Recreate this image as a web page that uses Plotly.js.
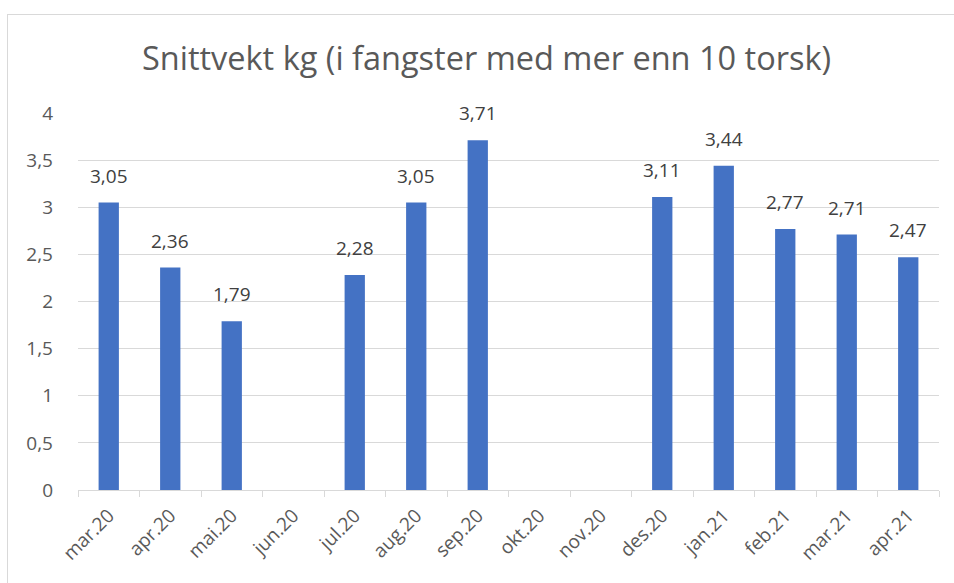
<!DOCTYPE html>
<html>
<head>
<meta charset="utf-8">
<script src="https://cdn.plot.ly/plotly-3.0.1.min.js"></script>
<style>
  body { margin: 0; background: #fff; }
  #plot { position: absolute; left: 0; top: 0; width: 954px; height: 583px; }
  #frame { position: absolute; left: 7px; top: 14px; width: 960px; height: 580px;
           border-left: 1px solid #d9d9d9; border-top: 1px solid #d9d9d9; pointer-events: none; }
</style>
</head>
<body>
<div id="plot"></div>
<div id="frame"></div>
<script>
// Månedene (tomme måneder har ingen verdi)
const months = ['mar.20', 'apr.20', 'mai.20', 'jun.20', 'jul.20', 'aug.20', 'sep.20',
                'okt.20', 'nov.20', 'des.20', 'jan.21', 'feb.21', 'mar.21', 'apr.21'];
const snittvekt = [3.05, 2.36, 1.79, null, 2.28, 3.05, 3.71,
                   null, null, 3.11, 3.44, 2.77, 2.71, 2.47];
const yTicks = [0, 0.5, 1, 1.5, 2, 2.5, 3, 3.5, 4];

const font = '"Open Sans", "Liberation Sans", sans-serif';

const trace = {
    type: 'bar',
    x: months,
    y: snittvekt,
    width: 0.33,
    marker: { color: '#4472c4' },
    hoverinfo: 'x+y'
};

// dataetiketter over søylene
const labels = [];
months.forEach((m, i) => {
    if (snittvekt[i] === null) return;
    labels.push({
        x: m,
        y: snittvekt[i],
        text: snittvekt[i].toFixed(2).replace('.', ','),
        showarrow: false,
        yanchor: 'bottom',
        yshift: 12,
        font: { family: font, size: 19, color: '#404040' }
    });
});

const layout = {
    width: 954,
    height: 583,
    separators: ', ',
    paper_bgcolor: '#ffffff',
    plot_bgcolor: '#ffffff',
    font: { family: font, color: '#595959' },
    title: {
        text: 'Snittvekt kg (i fangster med mer enn 10 torsk)',
        font: { family: font, size: 32.5, color: '#595959' },
        x: 0.51,
        xanchor: 'center',
        y: 0.9,
        yanchor: 'middle'
    },
    margin: { l: 78, r: 15, t: 113, b: 93 },
    xaxis: {
        type: 'category',
        tickangle: -45,
        tickfont: { family: font, size: 19, color: '#595959' },
        showline: true,
        linecolor: '#d9d9d9',
        linewidth: 1,
        ticks: 'outside',
        tickson: 'boundaries',
        ticklen: 6,
        tickcolor: '#d9d9d9',
        ticklabelstandoff: 6,
        showgrid: false
    },
    yaxis: {
        range: [0, 4],
        tickvals: yTicks,
        tickfont: { family: font, size: 19, color: '#595959' },
        gridcolor: '#d9d9d9',
        gridwidth: 1,
        zeroline: false,
        showline: false,
        ticks: '',
        ticklabelstandoff: 24
    },
    annotations: labels,
    showlegend: false
};

Plotly.newPlot('plot', [trace], layout, { displayModeBar: false, staticPlot: true });
</script>
</body>
</html>
